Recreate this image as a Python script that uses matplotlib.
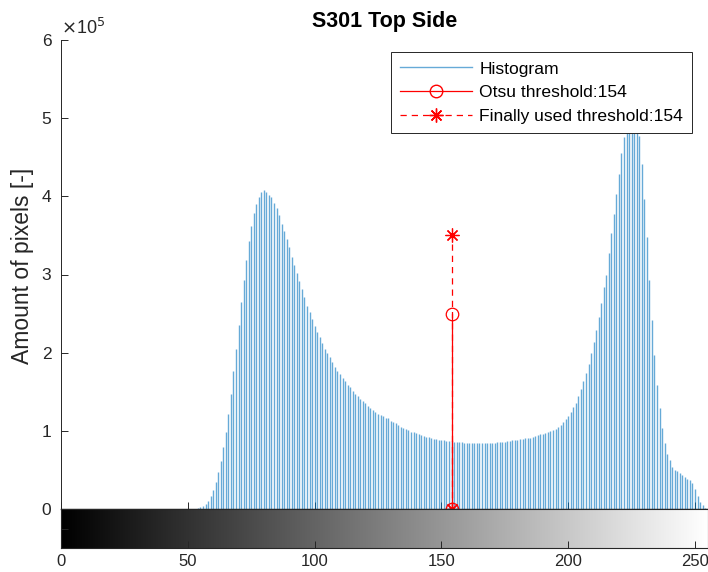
import numpy as np
import matplotlib
matplotlib.use("Agg")
import matplotlib.pyplot as plt
from matplotlib.lines import Line2D

plt.rcParams['font.family'] = ['Liberation Sans', 'DejaVu Sans']

# ---- data (pixel counts in units of 1e5) ----
first_level = 52
hist_counts_1e5 = [
    0.002, 0.005, 0.009, 0.02, 0.04, 0.07, 0.10, 0.17, 0.24, 0.34,      # 52-61
    0.47, 0.61, 0.79, 0.98, 1.22, 1.47, 1.76, 2.05, 2.35, 2.65,         # 62-71
    2.93, 3.19, 3.43, 3.62, 3.79, 3.90, 3.99, 4.05, 4.08, 4.06,         # 72-81
    4.02, 3.99, 3.92, 3.85, 3.76, 3.65, 3.56, 3.45, 3.35, 3.22,         # 82-91
    3.12, 3.02, 2.92, 2.82, 2.71, 2.60, 2.52, 2.43, 2.34, 2.26,         # 92-101
    2.20, 2.13, 2.05, 1.99, 1.94, 1.88, 1.82, 1.77, 1.73, 1.68,         # 102-111
    1.64, 1.59, 1.56, 1.51, 1.47, 1.44, 1.41, 1.38, 1.35, 1.32,         # 112-121
    1.29, 1.27, 1.24, 1.22, 1.20, 1.19, 1.17, 1.16, 1.13, 1.11,         # 122-131
    1.10, 1.08, 1.05, 1.04, 1.02, 1.01, 0.99, 0.985, 0.97, 0.955,       # 132-141
    0.946, 0.94, 0.925, 0.917, 0.904, 0.89, 0.89, 0.882, 0.882, 0.878,  # 142-151
    0.874, 0.874, 0.87, 0.86, 0.857, 0.857, 0.853, 0.848, 0.848, 0.844, # 152-161
    0.84, 0.84, 0.84, 0.84, 0.84, 0.84, 0.844, 0.844, 0.848, 0.848,     # 162-171
    0.857, 0.857, 0.86, 0.861, 0.874, 0.874, 0.878, 0.878, 0.887, 0.891,# 172-181
    0.90, 0.904, 0.908, 0.912, 0.925, 0.93, 0.942, 0.955, 0.963, 0.976, # 182-191
    0.985, 1.00, 1.01, 1.02, 1.05, 1.08, 1.11, 1.15, 1.19, 1.24,        # 192-201
    1.30, 1.36, 1.45, 1.53, 1.64, 1.74, 1.85, 1.99, 2.14, 2.29,         # 202-211
    2.45, 2.63, 2.84, 2.99, 3.27, 3.53, 3.78, 4.03, 4.29, 4.56,         # 212-221
    4.76, 5.00, 5.15, 5.22, 5.15, 4.98, 4.77, 4.42, 3.97, 3.48,         # 222-231
    2.93, 2.42, 1.97, 1.59, 1.29, 1.03, 0.84, 0.71, 0.63, 0.54,         # 232-241
    0.50, 0.48, 0.46, 0.43, 0.41, 0.39, 0.37, 0.33, 0.26, 0.16,         # 242-251
    0.09, 0.05, 0.01, 0.0,                                              # 252-255
]
gray_levels = np.arange(first_level, first_level + len(hist_counts_1e5))
counts = np.array(hist_counts_1e5) * 1e5

otsu_threshold = 154
otsu_marker_height = 2.5e5
final_threshold = 154
final_marker_height = 3.5e5

x_ticks = [0, 50, 100, 150, 200, 250]
y_ticks = [0, 1, 2, 3, 4, 5, 6]

title = "S301 Top Side"
ylabel = "Amount of pixels [-]"

# ---- figure ----
W, H = 708, 572
fig = plt.figure(figsize=(W / 100, H / 100), dpi=100)
axc = '#262626'

left, right = 61, 707.7
top, bottom = 40, 509
cb_bottom = 548
ax = fig.add_axes([left / W, 1 - bottom / H, (right - left) / W, (bottom - top) / H])
cax = fig.add_axes([left / W, 1 - cb_bottom / H, (right - left) / W, (cb_bottom - bottom) / H])

hist_color = '#0072BD'
ax.vlines(gray_levels, 0, counts, color=hist_color, linewidth=1.0, alpha=0.6)

asterisk = (8, 2, 0)
ax.plot([final_threshold, final_threshold], [0, final_marker_height], '--', color='red',
        marker=asterisk, markersize=10, linewidth=0.9, dashes=(5, 4), markeredgewidth=0.9)
ax.plot([otsu_threshold, otsu_threshold], [0, otsu_marker_height], '-', color='red',
        marker='o', markersize=9, markerfacecolor='none', linewidth=0.9, markeredgewidth=0.9)

ax.set_xlim(0, 255)
ax.set_ylim(0, 6e5)
ax.set_xticks(x_ticks)
ax.set_xticklabels([])
ax.set_yticks([v * 1e5 for v in y_ticks])
ax.set_yticklabels([str(v) for v in y_ticks])
ax.tick_params(axis='both', direction='in', length=5, width=0.7, color=axc,
               labelcolor=axc, labelsize=12.5, pad=7)
for s in ['top', 'right']:
    ax.spines[s].set_visible(False)
ax.spines['left'].set_color(axc)
ax.spines['left'].set_linewidth(0.7)
ax.spines['bottom'].set_color(axc)
ax.spines['bottom'].set_linewidth(1.0)

ax.text(0.0, 1.005, r'$\times$10$^5$', transform=ax.transAxes, fontsize=13,
        color=axc, ha='left', va='bottom')

ax.set_title(title, fontsize=15.5, fontweight='bold', pad=9)
ax.set_ylabel(ylabel, fontsize=16.5, color=axc, labelpad=2)
ax.yaxis.set_label_coords(-0.041, 0.518)

handles = [
    Line2D([], [], color=hist_color, linewidth=1.0, alpha=0.6),
    Line2D([], [], color='red', marker='o', markerfacecolor='none', markersize=9, linewidth=0.9),
    Line2D([], [], color='red', marker=asterisk, markersize=10, linewidth=0.9, linestyle='--', dashes=(5, 4)),
]
labels = ['Histogram', 'Otsu threshold:%d' % otsu_threshold,
          'Finally used threshold:%d' % final_threshold]
leg = ax.legend(handles, labels, loc='upper right', bbox_to_anchor=(0.976, 0.974),
                fontsize=12.6, fancybox=False, framealpha=1, edgecolor=axc,
                handlelength=4.1, handletextpad=0.4, labelspacing=0.48,
                borderpad=0.52, borderaxespad=0)
leg.get_frame().set_linewidth(0.7)

# ---- grayscale colorbar ----
gradient = np.linspace(0, 1, 256).reshape(1, -1)
cax.imshow(gradient, cmap='gray', aspect='auto', extent=[0, 255, 0, 1], vmin=0, vmax=1)
cax.set_xlim(0, 255)
cax.set_ylim(0, 1)
cax.set_xticks(x_ticks)
cax.set_xticklabels([str(v) for v in x_ticks])
cax.set_yticks([0.5])
cax.set_yticklabels([])
cax.tick_params(axis='both', direction='in', length=5, width=0.7, color=axc,
                labelcolor=axc, labelsize=12, pad=4)
for s in cax.spines.values():
    s.set_color(axc)
    s.set_linewidth(0.8)

fig.savefig('out.png', dpi=100)
